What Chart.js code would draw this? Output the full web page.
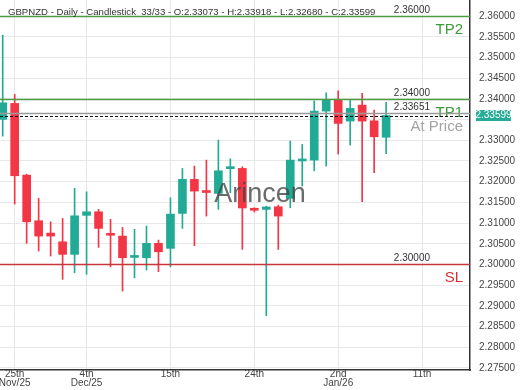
<!DOCTYPE html>
<html>
<head>
<meta charset="utf-8">
<script src="https://cdn.jsdelivr.net/npm/chart.js@4.4.0/dist/chart.umd.min.js"></script>
<style>
  body { margin: 0; background: #fff; }
  #wrap { width: 520px; height: 390px; }
</style>
</head>
<body>
<div id="wrap"><canvas id="chart" width="520" height="390"></canvas></div>
<script>
// daily candles, oldest first
const opens  = [2.33505, 2.33891, 2.32159, 2.31056, 2.30758, 2.30548, 2.30244, 2.31186, 2.31273, 2.30712, 2.30686,
                2.30170, 2.30162, 2.30510, 2.30389, 2.31234, 2.32056, 2.31748, 2.31717, 2.32315, 2.32321, 2.31318,
                2.31331, 2.31394, 2.31596, 2.32500, 2.32522, 2.33705, 2.33971, 2.33464, 2.33850, 2.33471, 2.33073];
const highs  = [2.35541, 2.34109, 2.32180, 2.31596, 2.31031, 2.31113, 2.31838, 2.31756, 2.31331, 2.31089, 2.30896,
                2.30848, 2.30928, 2.30589, 2.31611, 2.32321, 2.32377, 2.32522, 2.33005, 2.32553, 2.32360, 2.31370,
                2.31410, 2.31435, 2.32981, 2.32901, 2.33954, 2.34147, 2.34196, 2.33988, 2.34133, 2.33729, 2.33918];
const lows   = [2.33101, 2.31459, 2.30510, 2.30324, 2.30203, 2.29640, 2.29800, 2.29761, 2.30413, 2.29944, 2.29358,
                2.29675, 2.29865, 2.29824, 2.29944, 2.30872, 2.30452, 2.31169, 2.31331, 2.31732, 2.30364, 2.31265,
                2.28761, 2.30364, 2.31370, 2.31894, 2.32263, 2.32377, 2.32667, 2.32884, 2.31515, 2.32215, 2.32680];
const closes = [2.33906, 2.32143, 2.31031, 2.30686, 2.30686, 2.30244, 2.31176, 2.31273, 2.30872, 2.30705, 2.30162,
                2.30185, 2.30510, 2.30307, 2.31217, 2.32056, 2.31773, 2.31738, 2.32263, 2.32328, 2.31365, 2.31310,
                2.31390, 2.31169, 2.32522, 2.32512, 2.33705, 2.33971, 2.33408, 2.33771, 2.33464, 2.33085, 2.33599];

// x ticks (candle index -> label)
const tickIdx = [1, 7, 14, 21, 28, 35];
const tickLabels = [['25th', 'Nov/25'], ['4th', 'Dec/25'], '15th', '24th', ['2nd', 'Jan/26'], '11th'];

// trade levels
const levelValues = [2.36, 2.34, 2.33651, 2.30];
const levelNames = ['TP2', 'TP1', 'At Price', 'SL'];

const FONT = "'Liberation Sans', Arial, sans-serif";
const UP = '#22ab94', DOWN = '#f23645';
const n = opens.length;
const last = closes[n - 1];
const idx = opens.map((_, i) => i);
const colors = idx.map(i => closes[i] >= opens[i] ? UP : DOWN);

const levelStyle = {
    'TP2': { line: '#4f9a44', text: '#3c9a3c' },
    'TP1': { line: '#4f9a44', text: '#3c9a3c' },
    'At Price': { line: '#9a9a9a', text: '#a3a3a3' },
    'SL': { line: '#c8353a', text: '#d3303a' }
};

const overlay = {
    id: 'overlay',
    afterDatasetsDraw(chart) {
        const { ctx, chartArea: a, scales: { y } } = chart;
        ctx.save();

        // watermark
        ctx.font = '27px ' + FONT;
        ctx.fillStyle = 'rgba(70,70,70,0.8)';
        ctx.textAlign = 'center';
        ctx.textBaseline = 'middle';
        ctx.fillText('Arincen', 260, 195);

        // level lines + labels
        levelValues.forEach((v, i) => {
            const py = Math.round(y.getPixelForValue(v)) + 0.5;
            const st = levelStyle[levelNames[i]];
            ctx.strokeStyle = st.line;
            ctx.lineWidth = 1.3;
            ctx.setLineDash([]);
            ctx.beginPath();
            ctx.moveTo(a.left, py);
            ctx.lineTo(a.right, py);
            ctx.stroke();

            ctx.textAlign = 'right';
            ctx.font = '10px ' + FONT;
            ctx.fillStyle = '#333';
            ctx.fillText(v.toFixed(5), 430, py - 6);
            ctx.font = '15px ' + FONT;
            ctx.fillStyle = st.text;
            ctx.fillText(levelNames[i], 463, py + 13);
        });

        // current price dashed
        const cy = Math.round(y.getPixelForValue(last)) + 0.5;
        ctx.strokeStyle = '#111';
        ctx.lineWidth = 1.2;
        ctx.setLineDash([3, 2]);
        ctx.beginPath();
        ctx.moveTo(a.left, cy);
        ctx.lineTo(a.right, cy);
        ctx.stroke();
        ctx.restore();
    },
    afterDraw(chart) {
        const { ctx, chartArea: a, scales: { y } } = chart;
        ctx.save();
        // axis labels are clipped below the plot
        ctx.fillStyle = '#fff';
        ctx.fillRect(a.right + 1, a.bottom + 1, 60, 30);

        // price tag
        const cy = y.getPixelForValue(last);
        ctx.fillStyle = '#26ab96';
        ctx.fillRect(476, cy - 5.5, 35, 11);
        ctx.fillStyle = '#fff';
        ctx.font = '10px ' + FONT;
        ctx.textAlign = 'center';
        ctx.textBaseline = 'middle';
        ctx.fillText(last.toFixed(5), 493.5, cy);

        // header
        ctx.fillStyle = '#333';
        ctx.textAlign = 'left';
        ctx.font = '9.6px ' + FONT;
        const hdr = 'GBPNZD - Daily - Candlestick  ' + n + '/' + n +
            ' - O:' + opens[n - 1].toFixed(5) + ' - H:' + highs[n - 1].toFixed(5) +
            ' - L:' + lows[n - 1].toFixed(5) + ' - C:' + last.toFixed(5);
        ctx.fillText(hdr, 8, 12);
        ctx.restore();
    }
};

new Chart(document.getElementById('chart'), {
    type: 'bar',
    data: {
        datasets: [
            {
                label: 'wick',
                data: idx.map(i => ({ x: i, y: [lows[i], highs[i]] })),
                backgroundColor: colors,
                barThickness: 1,
                grouped: false,
                order: 2
            },
            {
                label: 'body',
                data: idx.map(i => ({ x: i, y: [opens[i], closes[i]] })),
                backgroundColor: colors,
                barThickness: 8,
                minBarLength: 2,
                grouped: false,
                order: 1
            }
        ]
    },
    options: {
        responsive: false,
        animation: false,
        layout: { padding: 0 },
        plugins: { legend: { display: false }, tooltip: { enabled: false } },
        scales: {
            x: {
                type: 'linear',
                offset: false,
                min: -0.225,
                max: 39,
                afterFit(s) { s.height = 20; s.paddingLeft = 0; s.paddingRight = 0; },
                afterBuildTicks(s) { s.ticks = tickIdx.map(v => ({ value: v })); },
                ticks: {
                    padding: 0,
                    autoSkip: false,
                    maxRotation: 0,
                    color: '#444',
                    font: { family: FONT, size: 10, lineHeight: 0.9 },
                    callback: (v, i) => tickLabels[i]
                },
                grid: { color: '#e8e8e8', drawTicks: false, offset: false },
                border: { color: '#333', width: 1.5 }
            },
            y: {
                position: 'right',
                min: 2.2745,
                max: 2.3639,
                afterFit(s) { s.width = 50; s.paddingTop = 0; s.paddingBottom = 0; },
                afterBuildTicks(s) {
                    const t = [];
                    for (let k = 0; k <= 18; k++) t.push({ value: +(2.275 + k * 0.005).toFixed(3) });
                    s.ticks = t;
                },
                ticks: {
                    padding: 9,
                    autoSkip: false,
                    color: '#444',
                    font: { family: FONT, size: 10 },
                    // the price tag hides the tick label under it
                    callback: v => Math.abs(v - last) < 0.002 ? '' : v.toFixed(5)
                },
                grid: { color: '#e8e8e8', drawTicks: false },
                border: { color: '#333', width: 1.5 }
            }
        }
    },
    plugins: [overlay]
});
</script>
</body>
</html>
